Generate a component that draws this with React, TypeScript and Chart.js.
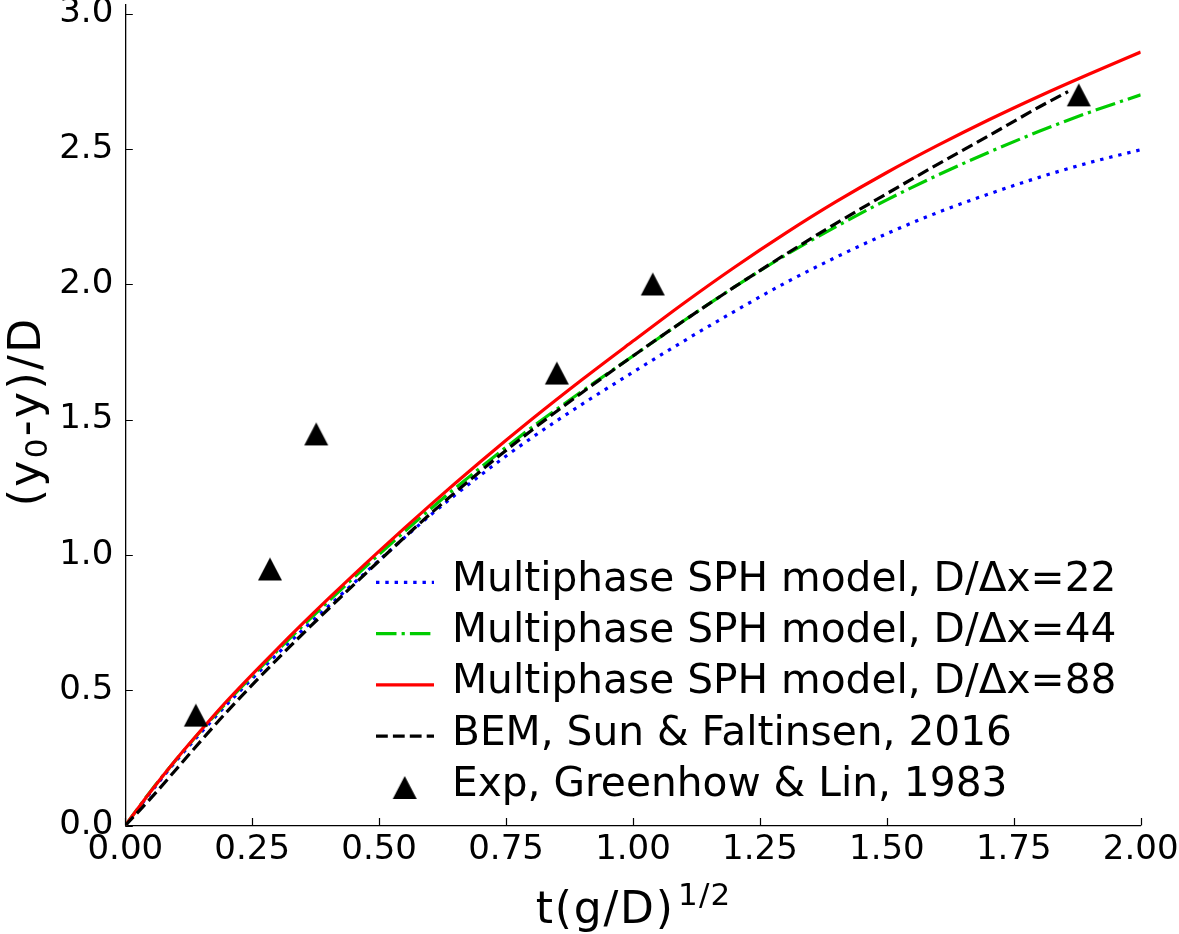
import React, { useEffect, useRef } from 'react';
import { Chart, registerables } from 'chart.js';

Chart.register(...registerables);

const FONT = '"DejaVu Sans"';

// shared abscissa for the SPH curves
const tValues = [0, 0.05, 0.1, 0.15, 0.2, 0.3, 0.4, 0.5, 0.6, 0.7, 0.8, 0.9, 1.0, 1.1, 1.2, 1.3, 1.4, 1.5, 1.6, 1.7, 1.8, 1.9, 2.0];
const sph22 = [0, 0.122, 0.238, 0.345, 0.447, 0.635, 0.81, 0.98, 1.145, 1.295, 1.432, 1.557, 1.675, 1.79, 1.9, 2.005, 2.1, 2.187, 2.265, 2.333, 2.395, 2.45, 2.497];
const sph44 = [0, 0.127, 0.243, 0.352, 0.455, 0.647, 0.828, 1.002, 1.168, 1.323, 1.47, 1.605, 1.735, 1.865, 1.99, 2.107, 2.213, 2.312, 2.403, 2.487, 2.565, 2.636, 2.7];
const sph88 = [0, 0.126, 0.244, 0.354, 0.46, 0.654, 0.838, 1.014, 1.183, 1.345, 1.5, 1.648, 1.79, 1.93, 2.063, 2.188, 2.305, 2.413, 2.513, 2.607, 2.695, 2.778, 2.858];

const bemT = [0, 0.05, 0.1, 0.15, 0.2, 0.3, 0.4, 0.5, 0.6, 0.7, 0.8, 0.9, 1.0, 1.1, 1.2, 1.3, 1.4, 1.5, 1.6, 1.7, 1.8, 1.857];
const bemY = [0, 0.1, 0.207, 0.315, 0.42, 0.616, 0.8, 0.978, 1.15, 1.31, 1.46, 1.6, 1.735, 1.865, 1.99, 2.11, 2.225, 2.335, 2.443, 2.548, 2.655, 2.712];

const expT = [0.139, 0.285, 0.376, 0.85, 1.039, 1.878];
const expY = [0.408, 0.948, 1.447, 1.672, 2.001, 2.7];

const xTickValues = [0, 0.25, 0.5, 0.75, 1.0, 1.25, 1.5, 1.75, 2.0];
const yTickValues = [0, 0.5, 1.0, 1.5, 2.0, 2.5, 3.0];

const legendLabels = [
  'Multiphase SPH model, D/\u0394x=22',
  'Multiphase SPH model, D/\u0394x=44',
  'Multiphase SPH model, D/\u0394x=88',
  'BEM, Sun & Faltinsen, 2016',
  'Exp, Greenhow & Lin, 1983',
];

const W = 1179;
const H = 934;
const PLOT = { left: 125.3, right: 1140.7, top: 4.7, bottom: 825.5 };

function makeTriangle(): HTMLCanvasElement {
  const w = 24;
  const h = 23;
  const c = document.createElement('canvas');
  c.width = w + 2;
  c.height = h + 2;
  const g = c.getContext('2d')!;
  g.fillStyle = '#000';
  g.beginPath();
  g.moveTo((w + 2) / 2, 1);
  g.lineTo(w + 1, h + 1);
  g.lineTo(1, h + 1);
  g.closePath();
  g.fill();
  return c;
}

function drawSpaced(ctx: CanvasRenderingContext2D, parts: { t: string; size: number; dy: number }[], gap: number, cx: number, cy: number) {
  let total = 0;
  const items: { ch: string; size: number; dy: number; w: number }[] = [];
  parts.forEach((p) => {
    ctx.font = `${p.size}px ${FONT}`;
    for (const ch of Array.from(p.t)) {
      const w = ctx.measureText(ch).width;
      items.push({ ch, size: p.size, dy: p.dy, w });
    }
  });
  items.forEach((it, i) => {
    total += it.w + (i > 0 ? gap : 0);
  });
  let x = cx - total / 2;
  items.forEach((it, i) => {
    if (i > 0) x += gap;
    ctx.font = `${it.size}px ${FONT}`;
    ctx.fillText(it.ch, x, cy + it.dy);
    x += it.w;
  });
}

const decorPlugin = {
  id: 'decor',
  afterDraw(chart: any) {
    const ctx: CanvasRenderingContext2D = chart.ctx;
    const { left, right, top, bottom } = chart.chartArea;
    const xs = chart.scales.x;
    const ys = chart.scales.y;
    ctx.save();
    // inward ticks
    ctx.strokeStyle = '#000';
    ctx.lineWidth = 1.2;
    ctx.setLineDash([]);
    ctx.beginPath();
    xTickValues.forEach((v) => {
      const px = Math.round(xs.getPixelForValue(v)) + 0.5;
      ctx.moveTo(px, bottom);
      ctx.lineTo(px, bottom - 7.5);
    });
    yTickValues.forEach((v) => {
      const py = Math.round(ys.getPixelForValue(v)) + 0.5;
      ctx.moveTo(left, py);
      ctx.lineTo(left + 7.5, py);
    });
    ctx.stroke();

    // legend
    const order = [4, 3, 2, 1, 0];
    const rowY0 = 582.3;
    const rowStep = 51.3;
    ctx.textAlign = 'left';
    ctx.textBaseline = 'alphabetic';
    order.forEach((dsIndex, row) => {
      const ds = chart.data.datasets[dsIndex];
      const y = rowY0 + row * rowStep;
      if (ds.showLine === false) {
        const img = ds.pointStyle as HTMLCanvasElement;
        ctx.drawImage(img, 404.7 - img.width / 2, y - img.height / 2);
      } else {
        ctx.strokeStyle = ds.borderColor;
        ctx.lineWidth = ds.borderWidth;
        ctx.setLineDash(ds.borderDash || []);
        ctx.lineCap = 'butt';
        ctx.beginPath();
        ctx.moveTo(376, y);
        ctx.lineTo(434, y);
        ctx.stroke();
        ctx.setLineDash([]);
      }
      ctx.fillStyle = '#000';
      ctx.font = `40.7px ${FONT}`;
      ctx.fillText(legendLabels[row], 452, y + 8.4);
    });

    // x title: t(g/D)^{1/2}
    ctx.fillStyle = '#000';
    ctx.textAlign = 'left';
    ctx.textBaseline = 'alphabetic';
    {
      const mainSize = 44;
      const supSize = 31;
      const gap = 1.8;
      const supGap = 1.2;
      const supSep = 5;
      ctx.font = `${mainSize}px ${FONT}`;
      const chars = Array.from('t(g/D)');
      const widths = chars.map((c) => ctx.measureText(c).width);
      const mainW = widths.reduce((a, b) => a + b, 0) + gap * (chars.length - 1);
      ctx.font = `${supSize}px ${FONT}`;
      const sup = Array.from('1/2');
      const supW = sup.map((c) => ctx.measureText(c).width);
      const supTotal = supW.reduce((a, b) => a + b, 0) + supGap * (sup.length - 1);
      const total = mainW + supSep + supTotal;
      let x = (left + right) / 2 - total / 2;
      ctx.font = `${mainSize}px ${FONT}`;
      chars.forEach((c, i) => {
        ctx.fillText(c, x, 923.3);
        x += widths[i] + gap;
      });
      x += supSep - gap;
      ctx.font = `${supSize}px ${FONT}`;
      sup.forEach((c, i) => {
        ctx.fillText(c, x, 905);
        x += supW[i] + supGap;
      });
    }

    // y title: (y_0-y)/D rotated
    ctx.save();
    ctx.translate(39.8, (top + bottom) / 2 - 2.5);
    ctx.rotate(-Math.PI / 2);
    drawSpaced(
      ctx,
      [
        { t: '(y', size: 44, dy: 0 },
        { t: '0', size: 31, dy: 7 },
        { t: '-y)/D', size: 44, dy: 0 },
      ],
      2.4,
      0,
      0
    );
    ctx.restore();

    ctx.restore();
  },
};

export default function App() {
  const canvasRef = useRef<HTMLCanvasElement | null>(null);

  useEffect(() => {
    if (!canvasRef.current) return;
    const tri = makeTriangle();
    const lw = 3.2;
    const chart = new Chart(canvasRef.current, {
      type: 'line',
      data: {
        datasets: [
          {
            label: legendLabels[4],
            data: expT.map((x, i) => ({ x, y: expY[i] })),
            showLine: false,
            pointStyle: tri as any,
            pointRadius: 12,
            pointHoverRadius: 12,
            borderColor: '#000',
            backgroundColor: '#000',
            order: 0,
          } as any,
          {
            label: legendLabels[3],
            data: bemT.map((x, i) => ({ x, y: bemY[i] })),
            borderColor: '#000000',
            borderWidth: lw,
            borderDash: [11.8, 5.1],
            pointRadius: 0,
            cubicInterpolationMode: 'monotone',
            fill: false,
            order: 1,
          },
          {
            label: legendLabels[2],
            data: tValues.map((x, i) => ({ x, y: sph88[i] })),
            borderColor: '#ff0000',
            borderWidth: lw,
            pointRadius: 0,
            cubicInterpolationMode: 'monotone',
            fill: false,
            order: 2,
          },
          {
            label: legendLabels[1],
            data: tValues.map((x, i) => ({ x, y: sph44[i] })),
            borderColor: '#00cc00',
            borderWidth: lw,
            borderDash: [20.5, 5.1, 3.2, 5.1],
            pointRadius: 0,
            cubicInterpolationMode: 'monotone',
            fill: false,
            order: 3,
          },
          {
            label: legendLabels[0],
            data: tValues.map((x, i) => ({ x, y: sph22[i] })),
            borderColor: '#0000ff',
            borderWidth: lw,
            borderDash: [3.4, 5.9],
            pointRadius: 0,
            cubicInterpolationMode: 'monotone',
            fill: false,
            order: 4,
          },
        ],
      },
      options: {
        animation: false,
        responsive: false,
        devicePixelRatio: 1,
        events: [],
        layout: {
          autoPadding: false,
          padding: { left: 0, top: PLOT.top, right: W - PLOT.right, bottom: 0 },
        },
        plugins: {
          legend: { display: false },
          tooltip: { enabled: false },
          title: { display: false },
        },
        scales: {
          x: {
            type: 'linear',
            min: 0,
            max: 2,
            afterBuildTicks: (s: any) => {
              s.ticks = xTickValues.map((v) => ({ value: v }));
            },
            afterFit: (s: any) => {
              s.height = H - PLOT.bottom;
              s.paddingLeft = 0;
              s.paddingRight = 0;
            },
            grid: { display: false, drawTicks: false },
            border: { display: true, color: '#000', width: 1.3 },
            ticks: {
              padding: 4,
              color: '#000',
              font: { family: 'DejaVu Sans', size: 34 },
              maxRotation: 0,
              autoSkip: false,
              callback: (v: any) => Number(v).toFixed(2),
            },
          },
          y: {
            type: 'linear',
            min: 0,
            max: 3.033,
            afterBuildTicks: (s: any) => {
              s.ticks = yTickValues.map((v) => ({ value: v }));
            },
            afterFit: (s: any) => {
              s.width = PLOT.left;
              s.paddingTop = 0;
              s.paddingBottom = 0;
            },
            grid: { display: false, drawTicks: false },
            border: { display: true, color: '#000', width: 1.3 },
            ticks: {
              padding: 12,
              color: '#000',
              font: { family: 'DejaVu Sans', size: 34 },
              autoSkip: false,
              callback: (v: any) => Number(v).toFixed(1),
            },
          },
        },
      } as any,
      plugins: [decorPlugin],
    });
    return () => chart.destroy();
  }, []);

  return (
    <div style={{ position: 'absolute', left: 0, top: 0, width: W, height: H, background: '#fff' }}>
      <canvas ref={canvasRef} width={W} height={H} style={{ display: 'block', width: W, height: H }} />
    </div>
  );
}
